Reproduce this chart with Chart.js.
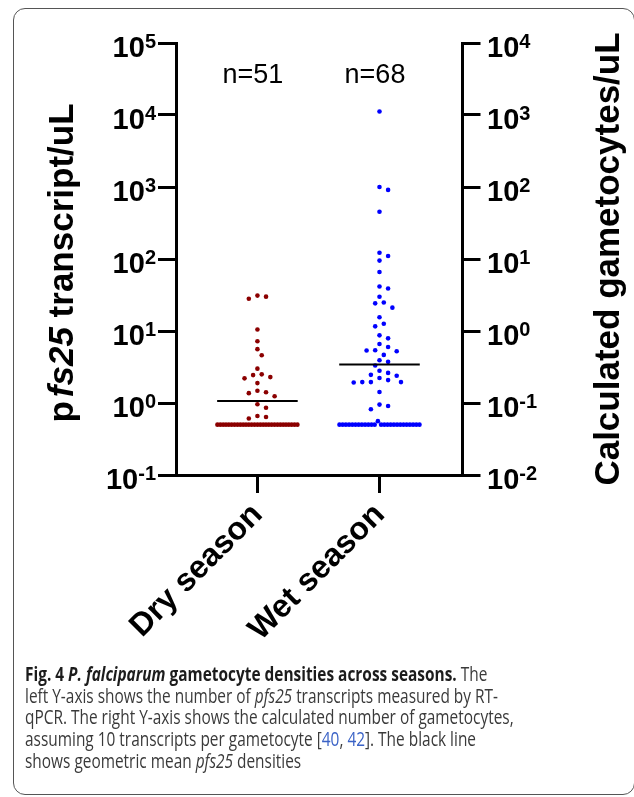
<!DOCTYPE html>
<html lang="en">
<head>
<meta charset="UTF-8">
<title>P. falciparum gametocyte densities across seasons</title>
<script src="https://cdn.jsdelivr.net/npm/chart.js"></script>
<style>
  body { margin: 0; background: #fff; }
  #wrap { position: relative; width: 634px; height: 797px; overflow: hidden; }
  #grafico { position: absolute; left: 0; top: 0; }
  .frame {
    position: absolute; left: 13px; top: 8px; width: 622px; height: 787px;
    border: 1.5px solid #555; border-radius: 12px; box-sizing: border-box;
  }
  .caption {
    position: absolute; left: 25px; top: 663px;
    font-family: "Open Sans", sans-serif; font-size: 20px; line-height: 21.67px; color: #3a3a3a;
  }
  .caption div { white-space: nowrap; width: max-content; transform-origin: 0 0; }
  .caption b { color: #1c1c1c; }
  .caption a { color: #3a62c6; text-decoration: none; }
</style>
</head>
<body>
<div id="wrap">
  <canvas id="grafico" width="634" height="797"></canvas>
  <div class="frame"></div>
  <div class="caption">
    <div><b>Fig. 4 <i>P. falciparum</i> gametocyte densities across seasons.</b> The</div>
    <div>left Y-axis shows the number of <i>pfs25</i> transcripts measured by RT-</div>
    <div>qPCR. The right Y-axis shows the calculated number of gametocytes,</div>
    <div>assuming 10 transcripts per gametocyte [<a>40</a>, <a>42</a>]. The black line</div>
    <div>shows geometric mean <i>pfs25</i> densities</div>
  </div>
</div>

<script>
// values (pfs25 transcripts/uL)
const categories = ['Dry season', 'Wet season'];
const sampleSizes = [51, 68];
const dryValues = [
  30, 31, 28, 10.5, 7.2, 5.6, 4.6, 3.0, 2.5, 2.2, 2.44, 2.29, 1.89, 1.48, 1.41, 1.37, 1.24,
  0.96, 0.86, 0.61, 0.66, 0.64,
  0.5, 0.5, 0.5, 0.5, 0.5, 0.5, 0.5, 0.5, 0.5, 0.5, 0.5, 0.5, 0.5, 0.5, 0.5,
  0.5, 0.5, 0.5, 0.5, 0.5, 0.5, 0.5, 0.5, 0.5, 0.5, 0.5, 0.5, 0.5, 0.5
];
const wetValues = [
  11200, 912, 1000, 453, 110, 122, 95, 66, 39, 41.5, 29.9, 24.2, 24.9, 21.1, 15.5, 11.6, 12.6,
  8.7, 7.9, 6.6, 6.0, 5.36, 5.24, 5.4, 4.66, 3.93, 3.73, 3.32, 2.80, 2.62, 2.39, 2.22, 2.46,
  1.95, 1.95, 2.08, 1.93, 1.95, 1.42, 0.95, 0.91, 0.82, 0.56,
  0.5, 0.5, 0.5, 0.5, 0.5, 0.5, 0.5, 0.5, 0.5, 0.5, 0.5, 0.5, 0.5,
  0.5, 0.5, 0.5, 0.5, 0.5, 0.5, 0.5, 0.5, 0.5, 0.5, 0.5, 0.5
];
const geoMeans = [1.07, 3.43];
const leftExponents = [-1, 0, 1, 2, 3, 4, 5];
const rightExponents = [-2, -1, 0, 1, 2, 3, 4];
const transcriptsPerGametocyte = 10;

const colors = ['#8b0000', '#0000ff'];
const FONT = '"Liberation Sans", Arial, Helvetica, sans-serif';
const MEAN_HALF = 0.33;   // x units
const STEP = 4.3, MIN_DIST = 6.8, ROW_DIST = 4.5, ROW_HALF = 40;   // px

function decadeTicks(exps) {
  return exps.map(function (e) { return { value: Math.pow(10, e) }; });
}

function drawPower(ctx, exp, x, py, align) {
  var big = 'bold 29px ' + FONT, small = 'bold 20px ' + FONT;
  ctx.font = big;
  var wBase = ctx.measureText('10').width;
  ctx.font = small;
  var wSup = ctx.measureText(String(exp)).width;
  var x0 = align === 'right' ? x - wBase - wSup : x;
  ctx.textAlign = 'left';
  ctx.textBaseline = 'alphabetic';
  ctx.font = big;
  ctx.fillText('10', x0, py + 13.5);
  ctx.font = small;
  ctx.fillText(String(exp), x0 + wBase, py + 4.5);
}

function drawRuns(ctx, runs, cx, cy) {
  ctx.save();
  ctx.translate(cx, cy);
  ctx.rotate(-Math.PI / 2);
  var total = 0;
  runs.forEach(function (r) {
    ctx.font = r.font;
    r.w = ctx.measureText(r.text).width + (r.gap || 0);
    total += r.w;
  });
  var x = -total / 2;
  ctx.textAlign = 'left';
  ctx.textBaseline = 'alphabetic';
  runs.forEach(function (r) { ctx.font = r.font; ctx.fillText(r.text, x, 0); x += r.w; });
  ctx.restore();
}

const textPlugin = {
  id: 'textPlugin',
  afterDraw(chart) {
    var ctx = chart.ctx;
    var xs = chart.scales.x, ys = chart.scales.y, ys2 = chart.scales.y2;
    ctx.save();
    ctx.fillStyle = '#000';

    leftExponents.forEach(function (e) {
      drawPower(ctx, e, 156, ys.getPixelForValue(Math.pow(10, e)), 'right');
    });
    rightExponents.forEach(function (e) {
      drawPower(ctx, e, 487, ys2.getPixelForValue(Math.pow(10, e)), 'left');
    });

    var bold = 'bold 35px ' + FONT, boldIt = 'italic bold 35px ' + FONT;
    drawRuns(ctx, [
      { text: 'p', font: bold, gap: 4 },
      { text: 'fs25', font: boldIt },
      { text: ' transcript/uL', font: bold }
    ], 73, 263);
    drawRuns(ctx, [{ text: 'Calculated gametocytes/uL', font: bold }], 619, 259);

    categories.forEach(function (c, i) {
      var px = xs.getPixelForValue(i + 1);
      ctx.save();
      ctx.translate(px + 6.5, 516);
      ctx.rotate(-Math.PI / 4);
      ctx.font = 'bold 32px ' + FONT;
      ctx.textAlign = 'right';
      ctx.textBaseline = 'alphabetic';
      ctx.fillText(c, 0, 0);
      ctx.restore();

      ctx.font = '27px ' + FONT;
      ctx.textAlign = 'center';
      ctx.fillText('n=' + sampleSizes[i], px - 4.5, 83);
    });
    ctx.restore();
  }
};

// spread points sideways like a Prism scatter (beeswarm)
function swarm(values, center, chart) {
  var xs = chart.scales.x, ys = chart.scales.y;
  var pxPerUnit = xs.getPixelForValue(2) - xs.getPixelForValue(1);
  var floorY = ys.getPixelForValue(Math.min.apply(null, values));
  var pts = values.map(function (v) { return { v: v, py: ys.getPixelForValue(v), off: 0 }; });
  pts.sort(function (a, b) { return b.v - a.v; });

  var row = pts.filter(function (p) { return floorY - p.py < 4; });
  var free = pts.filter(function (p) { return floorY - p.py >= 4; });

  var slots = row.map(function (p, i) {
    return row.length > 1 ? -ROW_HALF + i * 2 * ROW_HALF / (row.length - 1) : 0;
  });
  slots.sort(function (a, b) { return Math.abs(a) - Math.abs(b); });
  row.forEach(function (p, i) { p.off = slots[i]; });

  var placed = [];
  free.forEach(function (p) {
    for (var k = 0; k < 60; k++) {
      var off = (k % 2 ? 1 : -1) * Math.ceil(k / 2) * STEP;
      var hit = placed.some(function (q) { return Math.hypot(q.off - off, q.py - p.py) < MIN_DIST; }) ||
        row.some(function (q) { return Math.hypot(q.off - off, q.py - p.py) < ROW_DIST; });
      if (!hit) { p.off = off; break; }
    }
    placed.push(p);
  });

  return pts.map(function (p) { return { x: center + p.off / pxPerUnit, y: p.v }; });
}

function meanLine(i) {
  return [{ x: i + 1 - MEAN_HALF, y: geoMeans[i] }, { x: i + 1 + MEAN_HALF, y: geoMeans[i] }];
}

var axisGrid = {
  display: true, drawOnChartArea: false, drawTicks: true,
  tickLength: 18, lineWidth: 3, tickWidth: 3, color: '#000', tickColor: '#000'
};
var axisBorder = { display: true, width: 3, color: '#000' };

var canvas = document.getElementById('grafico');
var chart = new Chart(canvas, {
  type: 'scatter',
  data: {
    datasets: [
      { label: categories[0], data: dryValues.map(function (v) { return { x: 1, y: v }; }),
        backgroundColor: colors[0], pointRadius: 2.3, pointBorderWidth: 0, order: 1 },
      { label: categories[1], data: wetValues.map(function (v) { return { x: 2, y: v }; }),
        backgroundColor: colors[1], pointRadius: 2.3, pointBorderWidth: 0, order: 1 },
      { type: 'line', data: meanLine(0), borderColor: '#000', borderWidth: 2, pointRadius: 0, order: 0 },
      { type: 'line', data: meanLine(1), borderColor: '#000', borderWidth: 2, pointRadius: 0, order: 0 }
    ]
  },
  options: {
    responsive: false,
    animation: false,
    devicePixelRatio: 1,
    layout: { padding: { top: 43, left: 0, right: 0, bottom: 0 } },
    plugins: { legend: { display: false }, tooltip: { enabled: false } },
    scales: {
      x: {
        type: 'linear', position: 'bottom', min: 0.333, max: 2.68,
        grid: axisGrid, border: axisBorder,
        ticks: { display: false },
        afterBuildTicks: function (s) { s.ticks = categories.map(function (c, i) { return { value: i + 1 }; }); },
        afterFit: function (s) { s.height = 322; }
      },
      y: {
        type: 'logarithmic', position: 'left',
        min: Math.pow(10, leftExponents[0]), max: Math.pow(10, leftExponents[leftExponents.length - 1]),
        grid: axisGrid, border: axisBorder,
        ticks: { display: false },
        afterBuildTicks: function (s) { s.ticks = decadeTicks(leftExponents); },
        afterFit: function (s) { s.width = 176; }
      },
      y2: {
        type: 'logarithmic', position: 'right',
        min: Math.pow(10, leftExponents[0]) / transcriptsPerGametocyte,
        max: Math.pow(10, leftExponents[leftExponents.length - 1]) / transcriptsPerGametocyte,
        grid: axisGrid, border: axisBorder,
        ticks: { display: false },
        afterBuildTicks: function (s) { s.ticks = decadeTicks(rightExponents); },
        afterFit: function (s) { s.width = 171.5; }
      }
    }
  },
  plugins: [textPlugin]
});

chart.data.datasets[0].data = swarm(dryValues, 1, chart);
chart.data.datasets[1].data = swarm(wetValues, 2, chart);
chart.update('none');

// squeeze caption lines to the width used in the figure
var lines = document.querySelectorAll('.caption div');
var k = 473 / lines[1].getBoundingClientRect().width;
lines.forEach(function (l) { l.style.transform = 'scaleX(' + k + ')'; });
</script>
</body>
</html>
